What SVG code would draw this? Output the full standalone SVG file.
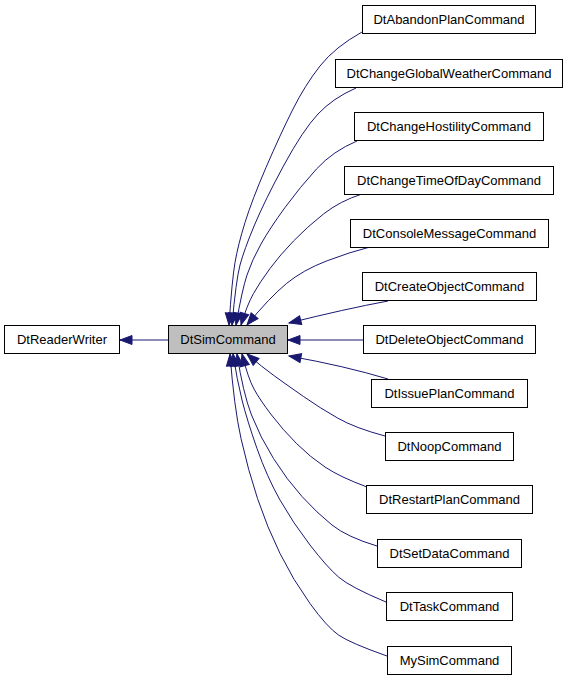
<svg xmlns="http://www.w3.org/2000/svg" width="568" height="680" viewBox="0 0 568 680">
<style>
.n rect{fill:#fff;stroke:#000;stroke-width:1}
.n text{font-family:"Liberation Sans",Arial,sans-serif;font-size:13px;fill:#000;text-anchor:middle}
#sim rect{fill:#bfbfbf}
.e path{fill:none;stroke:#191970;stroke-width:1;marker-end:url(#ah)}
</style>
<defs>
<marker id="ah" markerUnits="userSpaceOnUse" markerWidth="14" markerHeight="12" refX="12" refY="5" orient="auto" overflow="visible">
<path d="M0,0.5 L12,5 L0,9.5 Z" fill="#191970" stroke="#191970" stroke-width="1"/>
</marker>
</defs>
<g class="e" id="edges">
<path d="M168,340 L120,340"/>
<path d="M362,32 Q335,47 320,66 Q305,85 292.5,110 Q280,135 266,167.5 Q252,200 245,222.5 Q238,245 235,262.5 Q232,280 229,325"/>
<path d="M356,88 Q333,98 318,114 Q303,130 284,165 Q265,200 254.5,225 Q244,250 240,265 Q236,280 232,325"/>
<path d="M357,141 Q333,151 316.5,169 Q300,187 285,207.5 Q270,228 261,244 Q252,260 247,275 Q242,290 236,325"/>
<path d="M362,194 Q340,201 323.5,214 Q307,227 293.5,241 Q280,255 270,268.5 Q260,282 253.5,293.5 Q247,305 241,325"/>
<path d="M370,247 Q350,252 326.5,261 Q303,270 286.5,283.5 Q270,297 247,325"/>
<path d="M388,301 Q345,309 289,323"/>
<path d="M363,340 L288,340"/>
<path d="M388,379 Q345,366 289,356"/>
<path d="M385,436 Q355,428 337.5,418 Q320,408 303.5,396.5 Q287,385 274.5,376 Q262,367 247,354"/>
<path d="M367,487 Q340,477 325,467 Q310,457 296.5,443.5 Q283,430 271.5,415 Q260,400 254,389 Q248,378 242,354"/>
<path d="M377,546 Q347,537 332,525 Q317,513 302,496.5 Q287,480 273.5,458.5 Q260,437 251.5,415 Q243,393 237,354"/>
<path d="M386,602 Q350,587 338.5,577 Q327,567 310,545 Q293,523 280,500 Q267,477 257,448.5 Q247,420 242,400 Q237,380 233,354"/>
<path d="M387,656 Q350,643 338.5,635 Q327,627 310,603.5 Q293,580 280,553.5 Q267,527 257.5,498.5 Q248,470 241,438.5 Q234,407 230,354"/>
</g>
<g class="n" id="readerwriter"><rect x="4.5" y="325.5" width="115" height="28"/><text x="62" y="344">DtReaderWriter</text></g>
<g class="n" id="sim"><rect x="168.5" y="325.5" width="119" height="28"/><text x="228" y="344">DtSimCommand</text></g>
<g class="n" id="abandon"><rect x="362.5" y="5.5" width="173" height="28"/><text x="449" y="24">DtAbandonPlanCommand</text></g>
<g class="n" id="weather"><rect x="335.5" y="59.5" width="227" height="28"/><text x="449" y="78">DtChangeGlobalWeatherCommand</text></g>
<g class="n" id="hostility"><rect x="354.5" y="112.5" width="189" height="28"/><text x="449" y="131">DtChangeHostilityCommand</text></g>
<g class="n" id="timeofday"><rect x="344.5" y="166.5" width="209" height="28"/><text x="449" y="185">DtChangeTimeOfDayCommand</text></g>
<g class="n" id="console"><rect x="350.5" y="219.5" width="198" height="28"/><text x="449.5" y="238">DtConsoleMessageCommand</text></g>
<g class="n" id="create"><rect x="362.5" y="272.5" width="174" height="28"/><text x="449.5" y="291">DtCreateObjectCommand</text></g>
<g class="n" id="delete"><rect x="363.5" y="325.5" width="172" height="28"/><text x="449.5" y="344">DtDeleteObjectCommand</text></g>
<g class="n" id="issue"><rect x="371.5" y="379.5" width="156" height="28"/><text x="449.5" y="398">DtIssuePlanCommand</text></g>
<g class="n" id="noop"><rect x="385.5" y="432.5" width="128" height="28"/><text x="449.5" y="451">DtNoopCommand</text></g>
<g class="n" id="restart"><rect x="366.5" y="485.5" width="166" height="28"/><text x="449.5" y="504">DtRestartPlanCommand</text></g>
<g class="n" id="setdata"><rect x="377.5" y="539.5" width="144" height="28"/><text x="449.5" y="558">DtSetDataCommand</text></g>
<g class="n" id="task"><rect x="386.5" y="592.5" width="126" height="28"/><text x="449.5" y="611">DtTaskCommand</text></g>
<g class="n" id="mysim"><rect x="387.5" y="646.5" width="124" height="28"/><text x="449.5" y="665">MySimCommand</text></g>
</svg>
